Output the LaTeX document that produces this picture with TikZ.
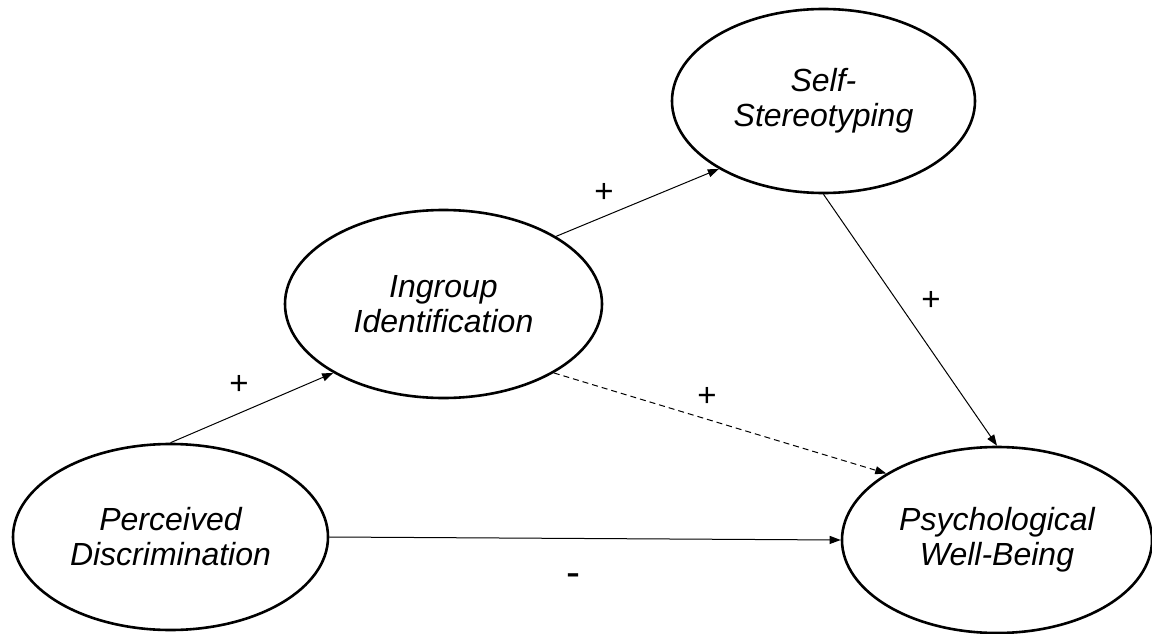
\documentclass[tikz,border=0pt]{standalone}
\usepackage{fontspec}
\setmainfont{Liberation Sans}
\usetikzlibrary{shapes.geometric,arrows.meta}
\begin{document}
\begin{tikzpicture}[x=1pt,y=-1pt,
  var/.style={ellipse,draw,line width=2.6pt,inner sep=0pt,align=center,
    font=\fontsize{32}{35}\selectfont\itshape},
  link/.style={line width=1pt,-{Triangle[length=11pt,width=8pt]}},
  sign/.style={font=\fontsize{33}{36}\selectfont,inner sep=0pt}]
\useasboundingbox (0,0) rectangle (1152,634);
\node[var,minimum width=303pt,minimum height=184pt] (self) at (823.5,101) {Self-\\Stereotyping};
\node[var,minimum width=317pt,minimum height=188pt] (ing) at (443.5,304) {Ingroup\\Identification};
\node[var,minimum width=315pt,minimum height=186pt] (perc) at (170.5,537) {Perceived\\Discrimination};
\node[var,minimum width=310pt,minimum height=186pt] (psych) at (997,540) {Psychological\\Well-Being};
\draw[link] (perc.north) -- (ing.212);
\draw[link] (ing.31) -- (self.213);
\draw[link] (self.south) -- (psych.north);
\draw[link,dash pattern=on 6pt off 4pt] (ing.328) -- (psych.149);
\draw[link] (perc.east) -- (psych.west);
\node[sign] (s1) at (239,385) {+};
\node[sign] (s2) at (604,193) {+};
\node[sign] (s3) at (931,301) {+};
\node[sign] (s4) at (707,397) {+};
\node[sign,font=\fontsize{42}{44}\selectfont] (s5) at (573,580) {-};
\end{tikzpicture}
\end{document}
